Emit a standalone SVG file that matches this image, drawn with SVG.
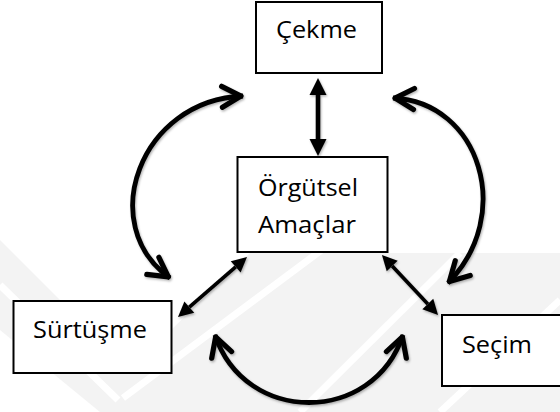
<svg xmlns="http://www.w3.org/2000/svg" width="560" height="412" viewBox="0 0 560 412">
  <style>
    .box { fill: #ffffff; stroke: #000000; stroke-width: 2; }
    .label { font-family: "Open Sans", "Noto Sans", "Liberation Sans", sans-serif; font-size: 23px; fill: #000000; }
    .straight { fill: none; stroke: #000000; stroke-width: 4.6; }
    .thin { fill: none; stroke: #000000; stroke-width: 3.6; }
    .curve { fill: none; stroke: #000000; stroke-width: 4.8; }
    .wm { fill: #f3f3f3; }
    .wm-gap { fill: none; stroke: #ffffff; stroke-width: 7; }
  </style>
  <defs>
    <!-- solid triangular head, base at the path end -->
    <marker id="tri" markerUnits="userSpaceOnUse" viewBox="-1 -10 20 20" markerWidth="20" markerHeight="20" refX="0" refY="0" orient="auto-start-reverse" overflow="visible">
      <path d="M17,0 L0,-8.5 L0,8.5 Z" fill="#000000"/>
    </marker>
    <marker id="triS" markerUnits="userSpaceOnUse" viewBox="-1 -9 18 18" markerWidth="18" markerHeight="18" refX="0" refY="0" orient="auto-start-reverse" overflow="visible">
      <path d="M15,0 L0,-7.5 L0,7.5 Z" fill="#000000"/>
    </marker>
    <!-- open chevron head for the curved arrows -->
    <marker id="chev" markerUnits="userSpaceOnUse" viewBox="-26 -14 30 28" markerWidth="30" markerHeight="28" refX="0" refY="0" orient="auto-start-reverse" overflow="visible">
      <path d="M-21,-10.5 L-2,0 L-21,10.5" fill="none" stroke="#000000" stroke-width="5.2" stroke-linecap="round" stroke-linejoin="round"/>
    </marker>
    <filter id="shadow" x="-10%" y="-10%" width="130%" height="130%">
      <feDropShadow dx="1" dy="1.5" stdDeviation="1.2" flood-color="#000000" flood-opacity="0.3"/>
    </filter>
  </defs>

  <rect width="560" height="412" fill="#ffffff"/>

  <!-- faint background chevrons -->
  <g id="background">
    <polygon class="wm" points="0,240 60,300 130,370 250,253 560,253 560,412 0,412"/>
    <path class="wm-gap" d="M0,285 L118,400"/>
    <path class="wm-gap" d="M123,398 L335,240"/>
    <path class="wm-gap" d="M300,412 L460,253"/>
    <path class="wm-gap" d="M440,412 L560,300"/>
    <polygon fill="#ffffff" points="0,330 100,412 0,412"/>
  </g>

  <!-- connectors -->
  <g id="connectors" filter="url(#shadow)">
    <path class="straight" d="M318,95 L318,139" marker-start="url(#tri)" marker-end="url(#tri)"/>
    <path class="thin" d="M235.7,266.8 L189.3,307.2" marker-start="url(#triS)" marker-end="url(#triS)"/>
    <path class="thin" d="M392.2,266 L427.8,304" marker-start="url(#triS)" marker-end="url(#triS)"/>
    <path class="curve" d="M243,96 C140,100 95,225 170,278" marker-start="url(#chev)" marker-end="url(#chev)"/>
    <path class="curve" d="M393,98 C480,102 515,215 448,283" marker-start="url(#chev)" marker-end="url(#chev)"/>
    <path class="curve" d="M215,335 C245,425 373,425 403,335" marker-start="url(#chev)" marker-end="url(#chev)"/>
  </g>

  <g id="cekme">
    <rect class="box" x="256" y="2" width="126" height="71"/>
    <text class="label" x="276" y="38" textLength="81" lengthAdjust="spacingAndGlyphs">Çekme</text>
  </g>

  <g id="orgutsel-amaclar">
    <rect class="box" x="237.5" y="157" width="150" height="95"/>
    <text class="label" x="258" y="196" textLength="100" lengthAdjust="spacingAndGlyphs">Örgütsel</text>
    <text class="label" x="258" y="233" textLength="98" lengthAdjust="spacingAndGlyphs">Amaçlar</text>
  </g>

  <g id="surtusme">
    <rect class="box" x="13.5" y="301" width="158" height="72"/>
    <text class="label" x="33" y="338" textLength="114" lengthAdjust="spacingAndGlyphs">Sürtüşme</text>
  </g>

  <g id="secim">
    <rect class="box" x="442" y="315" width="130" height="71"/>
    <text class="label" x="462" y="353" textLength="70" lengthAdjust="spacingAndGlyphs">Seçim</text>
  </g>
</svg>
